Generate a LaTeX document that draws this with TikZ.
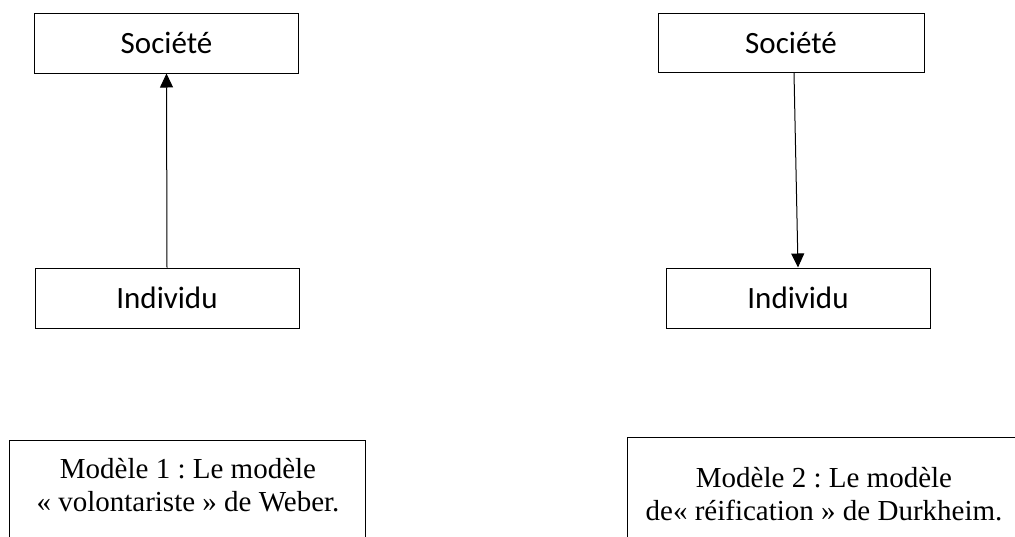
\documentclass[tikz,border=0pt]{standalone}
\usepackage{fontspec}
\setmainfont{Liberation Serif}
\newfontfamily\calibri{Carlito}
\usetikzlibrary{arrows.meta}
\frenchspacing

\begin{document}
\begin{tikzpicture}[x=1pt, y=-1pt,
  termbox/.style={draw, line width=1pt, minimum width=264pt, minimum height=60pt,
    inner sep=0pt, font=\calibri\fontsize{31}{36}\selectfont},
  capbox/.style={draw, line width=1pt, inner sep=0pt},
  captext/.style={align=center, inner sep=0pt, font=\fontsize{29}{33}\selectfont},
  link/.style={line width=1pt, -{Triangle[width=13pt,length=14pt]}}]
  \useasboundingbox (0,0) rectangle (1015,536);
  \clip (0,0) rectangle (1015,536);

  % Model 1: the individual builds society
  \node[termbox] (s1) at (166.5,43) {Société};
  \node[termbox] (i1) at (167,298) {Individu};
  \draw[link] (i1.north) -- (s1.south);

  % Model 2: society shapes the individual
  \node[termbox, minimum width=266pt, minimum height=59pt] (s2) at (791,42.5) {Société};
  \node[termbox] (i2) at (798,298) {Individu};
  \draw[link] ([xshift=3pt]s2.south) -- (i2.north);

  % Captions (frames run past the lower edge)
  \node[capbox, minimum width=356pt, minimum height=160pt] (c1box) at (187,520) {};
  \node[captext] (c1) at (188,485)
    {Modèle 1 : Le modèle\\« volontariste » de Weber.};

  \node[capbox, minimum width=394pt, minimum height=166pt] (c2box) at (824,520) {};
  \node[captext] (c2) at (824,494)
    {Modèle 2 : Le modèle\\de« réification » de Durkheim.};
\end{tikzpicture}
\end{document}
